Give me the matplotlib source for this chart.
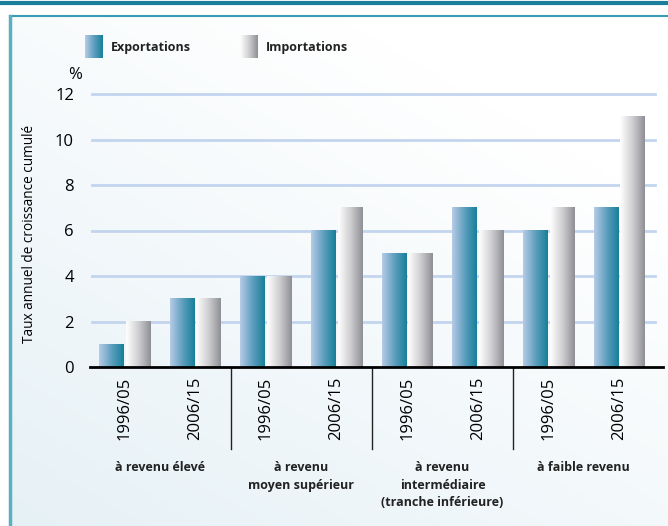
import numpy as np
import matplotlib
matplotlib.use("Agg")
import matplotlib.pyplot as plt
from matplotlib.colors import LinearSegmentedColormap
from matplotlib.lines import Line2D

plt.rcParams['font.family'] = ['Open Sans', 'DejaVu Sans']

periods = ["1996/05", "2006/15", "1996/05", "2006/15", "1996/05", "2006/15", "1996/05", "2006/15"]
groups = ["à revenu élevé", "à revenu\nmoyen supérieur",
          "à revenu\nintermédiaire\n(tranche inférieure)", "à faible revenu"]
exports = [1, 3, 4, 6, 5, 7, 6, 7]
imports = [2, 3, 4, 7, 5, 6, 7, 11]
series_names = ["Exportations", "Importations"]

W, H = 668, 526
fig = plt.figure(figsize=(W / 100, H / 100), dpi=100)

# background
bg = fig.add_axes([0, 0, 1, 1], zorder=-10)
bg.set_xlim(0, W); bg.set_ylim(H, 0); bg.axis('off')
yy, xx = np.mgrid[0:1:200j, 0:1:200j]
t = np.clip((xx * 0.6 + (1 - yy) * 0.8) / 1.1, 0, 1)
bgcmap = LinearSegmentedColormap.from_list('bg', ['#e6f1f6', '#ffffff'])
bg.imshow(t, cmap=bgcmap, extent=[10, W, H, 16], aspect='auto', zorder=0)
bg.add_line(Line2D([0, W], [3, 3], color='#1a7f9a', lw=3))
bg.add_line(Line2D([10, W], [16, 16], color='#3a9cb4', lw=1.5))
bg.add_line(Line2D([10, 10], [16, H], color='#5aafc0', lw=2.5))

exp_cmap = LinearSegmentedColormap.from_list('exp', ['#b6cbe6', '#5f9fbf', '#17809a'])
imp_cmap = LinearSegmentedColormap.from_list('imp', ['#ffffff', '#cfcfd2', '#8f9095'])
grad = np.linspace(0, 1, 64).reshape(1, -1)

# legend
lx = [85, 240]
for i, cm in enumerate([exp_cmap, imp_cmap]):
    bg.imshow(grad, cmap=cm, extent=[lx[i], lx[i] + 18, 58, 35], aspect='auto', zorder=2)
    bg.text(lx[i] + 26, 48, series_names[i], fontsize=9, fontweight='bold',
            va='center', ha='left', color='#222222')

ax_left, ax_right = 92 / W, 663 / W
ax_bot, ax_top = 1 - 367 / H, 1 - 94 / H
ax = fig.add_axes([ax_left, ax_bot, ax_right - ax_left, ax_top - ax_bot])
ax.patch.set_alpha(0)
xlim = (-0.46, 7.62)
ax.set_xlim(*xlim)
ax.set_ylim(0, 12)

bw = 0.345
gap = 0.03
for i in range(len(periods)):
    x0 = i - bw - gap / 2
    ax.imshow(grad, cmap=exp_cmap, extent=[x0, x0 + bw, 0, exports[i]],
              aspect='auto', zorder=3)
    x1 = i + gap / 2
    ax.imshow(grad, cmap=imp_cmap, extent=[x1, x1 + bw, 0, imports[i]],
              aspect='auto', zorder=3)
ax.set_xlim(*xlim)
ax.set_ylim(0, 12)

for v in range(2, 13, 2):
    ax.plot([xlim[0], 7.5], [v, v], color='#c3d5ee', lw=2, zorder=1, clip_on=False)
ax.plot([xlim[0] - 0.03, xlim[1]], [0, 0], color='black', lw=2, zorder=5, clip_on=False)

for s in ax.spines.values():
    s.set_visible(False)
ax.set_yticks(range(0, 13, 2))
ax.set_yticklabels([str(v) for v in range(0, 13, 2)], fontsize=12)
ax.tick_params(axis='y', length=0, pad=13)
ax.set_xticks(range(len(periods)))
ax.set_xticklabels(periods, rotation=90, fontsize=12)
ax.tick_params(axis='x', length=0, pad=7)

for sep in [1.5, 3.5, 5.5]:
    ax.plot([sep, sep], [0, -3.6], color='#222222', lw=1, clip_on=False)

for g, name in enumerate(groups):
    ax.text(2 * g + 0.5, -4.15, name, fontsize=9, fontweight='bold', ha='center',
            va='top', linespacing=1.45, color='#222222')

ax.text(-0.7, 12.5, "%", fontsize=12, ha='center', va='bottom')
fig.text(30 / W, 1 - 234 / H, "Taux annuel de croissance cumulé", rotation=90,
         fontsize=9.8, ha='center', va='center')

fig.savefig("out.png", dpi=100)
